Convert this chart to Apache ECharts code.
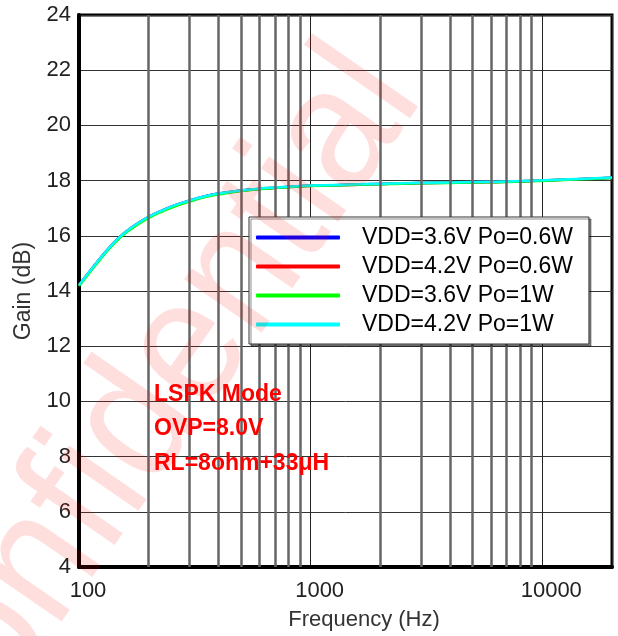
<!DOCTYPE html>
<html>
<head>
<meta charset="utf-8">
<title>Gain vs Frequency</title>
<script src="https://cdn.jsdelivr.net/npm/echarts@6/dist/echarts.min.js"></script>
<style>
  html, body { margin: 0; padding: 0; background: #fff; }
  #mChart { width: 618px; height: 636px; }
</style>
</head>
<body>
<div id="mChart"></div>
<script>
  // 数据
  var freqHz = [100, 110, 120, 130, 140, 150, 160, 180, 200, 230, 260, 300, 350, 400, 500,
    600, 700, 800, 1000, 1500, 2000, 3000, 5000, 7000, 10000, 15000, 20000];
  var gainVdd36Po06 = [14.22, 14.66, 15.06, 15.41, 15.71, 15.96, 16.16, 16.46, 16.69, 16.93, 17.11, 17.28,
    17.43, 17.53, 17.64, 17.70, 17.74, 17.77, 17.81, 17.85, 17.88, 17.91, 17.94, 17.96, 18.00, 18.06, 18.10];
  var gainVdd42Po06 = [14.21, 14.65, 15.05, 15.40, 15.70, 15.95, 16.15, 16.45, 16.68, 16.92, 17.10, 17.27,
    17.42, 17.52, 17.63, 17.70, 17.74, 17.77, 17.81, 17.85, 17.88, 17.91, 17.94, 17.96, 18.00, 18.06, 18.10];
  var gainVdd36Po1 = [14.18, 14.62, 15.02, 15.37, 15.67, 15.92, 16.12, 16.42, 16.65, 16.89, 17.07, 17.24,
    17.40, 17.50, 17.62, 17.69, 17.73, 17.76, 17.80, 17.84, 17.87, 17.90, 17.93, 17.95, 17.99, 18.05, 18.09];
  var gainVdd42Po1 = [14.22, 14.66, 15.06, 15.41, 15.71, 15.96, 16.16, 16.46, 16.69, 16.93, 17.11, 17.28,
    17.43, 17.53, 17.64, 17.71, 17.75, 17.78, 17.82, 17.86, 17.89, 17.92, 17.95, 17.97, 18.01, 18.07, 18.11];
  var seriesNames = ['VDD=3.6V Po=0.6W', 'VDD=4.2V Po=0.6W', 'VDD=3.6V Po=1W', 'VDD=4.2V Po=1W'];
  var seriesColors = ['#0000ff', '#ff0000', '#00ff00', '#00ffff'];
  var xTickLabels = [100, 1000, 10000];
  var minorFreqs = [200, 300, 400, 500, 600, 700, 800, 900,
    2000, 3000, 4000, 5000, 6000, 7000, 8000, 9000];
  var noteLines = ['LSPK Mode', 'OVP=8.0V', 'RL=8ohm+33μH'];

  var FONT = 'Liberation Sans, Arial, sans-serif';

  function pairs(ys) {
    return freqHz.map(function (f, i) { return [f, ys[i]]; });
  }

  var gains = [gainVdd36Po06, gainVdd42Po06, gainVdd36Po1, gainVdd42Po1];

  var series = gains.map(function (g, i) {
    return {
      name: seriesNames[i],
      type: 'line',
      smooth: true,
      showSymbol: false,
      z: 3,
      lineStyle: { color: seriesColors[i], width: 2.5 },
      itemStyle: { color: seriesColors[i] },
      data: pairs(g)
    };
  });

  // minor log grid lines
  series.push({
    name: 'minor',
    type: 'line',
    data: [],
    z: 1,
    silent: true,
    markLine: {
      silent: true,
      symbol: 'none',
      label: { show: false },
      animation: false,
      lineStyle: { color: '#666', width: 2.5, type: 'solid' },
      data: minorFreqs.map(function (v) { return { xAxis: v }; })
    }
  });

  var graphics = noteLines.map(function (t, i) {
    return {
      type: 'text',
      left: 154,
      top: 383 + i * 34.5,
      z: 10,
      style: { text: t, fill: '#ff0000', font: 'bold 23px ' + FONT }
    };
  });
  // watermark
  graphics.push({
    type: 'text',
    x: -103,
    y: 773,
    rotation: 55.3 * Math.PI / 180,
    scaleX: 0.91,
    z: 100,
    silent: true,
    style: {
      text: 'Confidential',
      fill: 'rgba(255,0,0,0.13)',
      font: '178px ' + FONT,
      textAlign: 'left',
      textVerticalAlign: 'middle'
    }
  });

  var myChart = echarts.init(document.getElementById('mChart'));
  myChart.setOption({
    animation: false,
    backgroundColor: '#fff',
    grid: {
      left: 79, right: 6, top: 15, bottom: 68,
      show: true, borderColor: '#000', borderWidth: 3
    },
    legend: {
      data: seriesNames,
      orient: 'vertical',
      left: 249,
      top: 217,
      z: 50,
      padding: [9, 16, 8, 7],
      itemGap: 6,
      itemWidth: 84,
      itemHeight: 4,
      icon: 'roundRect',
      backgroundColor: '#fff',
      borderColor: '#333',
      borderWidth: 1,
      borderRadius: 0,
      shadowColor: 'rgba(0,0,0,0.45)',
      shadowOffsetX: 2,
      shadowOffsetY: 2,
      shadowBlur: 0,
      textStyle: { fontFamily: FONT, fontSize: 23, color: '#000', lineHeight: 23, padding: [0, 0, 0, 17] }
    },
    xAxis: {
      type: 'log',
      logBase: 10,
      min: 100,
      max: 20000,
      name: 'Frequency (Hz)',
      nameLocation: 'middle',
      nameGap: 42,
      nameTextStyle: { fontFamily: FONT, fontSize: 22, color: '#333', padding: [0, 0, 0, 37] },
      axisLine: { lineStyle: { color: '#000', width: 4 } },
      axisTick: { show: false },
      axisLabel: {
        fontFamily: FONT, fontSize: 22, color: '#222', margin: 13,
        padding: [0, 0, 0, 18],
        formatter: function (v) {
          return xTickLabels.indexOf(Math.round(v)) >= 0 ? String(Math.round(v)) : '';
        }
      },
      splitLine: { show: true, lineStyle: { color: '#222', width: 1 } }
    },
    yAxis: {
      type: 'value',
      min: 4,
      max: 24,
      interval: 2,
      name: 'Gain (dB)',
      nameLocation: 'middle',
      nameGap: 44,
      nameTextStyle: { fontFamily: FONT, fontSize: 23, color: '#333' },
      axisLine: { show: true, lineStyle: { color: '#000', width: 4 } },
      axisTick: { show: false },
      axisLabel: { fontFamily: FONT, fontSize: 22, color: '#222', margin: 8 },
      splitLine: { show: true, lineStyle: { color: '#333', width: 1 } }
    },
    graphic: graphics,
    series: series
  });
</script>
</body>
</html>
